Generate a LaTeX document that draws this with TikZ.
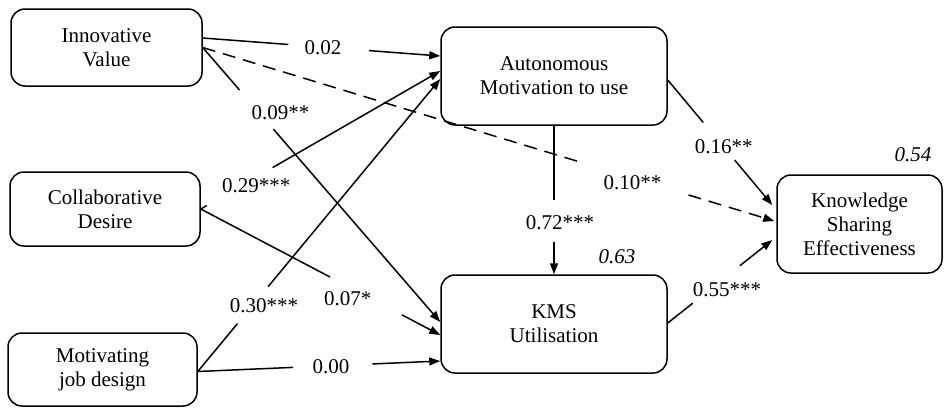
\documentclass[tikz,border=0pt]{standalone}
\usepackage{fontspec}
\setmainfont{Liberation Serif}
\usetikzlibrary{arrows.meta,calc}
\begin{document}
\begin{tikzpicture}[x=1pt,y=-1pt,
  every node/.style={font=\fontsize{21}{24}\selectfont},
  box/.style={draw,line width=1.5pt,rounded corners=14pt,align=center,inner sep=0pt},
  conn/.style={line width=1.5pt},
  arr/.style={line width=1.5pt,-{Triangle[length=11pt,width=8pt]}},
  dashline/.style={dash pattern=on 13pt off 8pt},
  coef/.style={inner sep=1pt},
  rsq/.style={font=\fontsize{21}{24}\selectfont\itshape}
]
\useasboundingbox (0,0) rectangle (944,408);

% boxes
\node[box,minimum width=191pt,minimum height=77pt] (IV) at (106.5,47.5) {Innovative\\Value};
\node[box,minimum width=190pt,minimum height=74pt] (CD) at (105,209) {Collaborative\\Desire};
\node[box,minimum width=189pt,minimum height=73pt] (MJ) at (102.5,369.5) {Motivating\\job design};
\node[box,minimum width=226pt,minimum height=98pt] (AM) at (554,76) {Autonomous\\Motivation to use};
\node[box,minimum width=226pt,minimum height=98pt] (KU) at (554,324) {KMS\\Utilisation};
\node[box,minimum width=165pt,minimum height=98pt] (KSE) at (859.5,224) {Knowledge\\Sharing\\Effectiveness};

% connector end points on the box borders
\coordinate (ivA) at ($(IV.east)+(0,-9.5)$);
\coordinate (ivB) at (IV.east);
\coordinate (cdA) at (CD.east);
\coordinate (mjA) at ($(MJ.east)+(0,2)$);
\coordinate (amL1) at ($(AM.west)+(0,-20)$);
\coordinate (amL2) at ($(AM.west)+(0,-5)$);
\coordinate (amL3) at ($(AM.west)+(0,3)$);
\coordinate (amR) at ($(AM.east)+(0,4)$);
\coordinate (kuL1) at ($(KU.west)+(0,-2)$);
\coordinate (kuL2) at ($(KU.west)+(0,11)$);
\coordinate (kuL3) at ($(KU.west)+(0,37)$);
\coordinate (kuR) at ($(KU.east)+(0,-1)$);
\coordinate (kseL1) at ($(KSE.west)+(-4,-19)$);
\coordinate (kseL2) at ($(KSE.west)+(-2,-3)$);
\coordinate (kseL3) at ($(KSE.west)+(-4,16)$);

% Innovative Value -> Autonomous (0.02)
\draw[conn] (ivA) -- ($(ivA)!0.36!(amL1)$);
\draw[arr] ($(ivA)!0.70!(amL1)$) -- (amL1);
\node[coef] (l02) at ($(ivA)!0.506!(amL1)+(0,1)$) {0.02};

% Innovative Value -> Knowledge Sharing (0.10**, dashed)
\draw[conn,dashline] (ivB) -- ($(ivB)!0.665!(kseL2)$);
\draw[arr,dashline] ($(ivB)!0.85!(kseL2)$) -- (kseL2);
\node[coef] (l10) at ($(ivB)!0.752!(kseL2)+(0,5)$) {0.10**};

% Innovative Value -> KMS (0.09**)
\draw[conn] (ivB) -- ($(ivB)!0.155!(kuL1)$);
\draw[arr] ($(ivB)!0.297!(kuL1)$) -- (kuL1);
\node[coef] (l09) at ($(ivB)!0.239!(kuL1)+(21,0)$) {0.09**};

% Collaborative Desire -> Autonomous (0.29***)
\draw[conn] (cdA) -- ($(cdA)!0.025!(amL2)$);
\draw[arr] ($(cdA)!0.30!(amL2)$) -- (amL2);
\node[coef] (l29) at ($(cdA)!0.232!(amL2)+(0,9)$) {0.29***};

% Collaborative Desire -> KMS (0.07*)
\draw[conn] (cdA) -- ($(cdA)!0.54!(kuL2)$);
\draw[arr] ($(cdA)!0.84!(kuL2)$) -- (kuL2);
\node[coef] (l07) at ($(cdA)!0.614!(kuL2)+(0,12.5)$) {0.07*};

% Motivating job design -> Autonomous (0.30***)
\draw[conn] (mjA) -- ($(mjA)!0.164!(amL3)$);
\draw[arr] ($(mjA)!0.29!(amL3)$) -- (amL3);
\node[coef] (l30) at ($(mjA)!0.224!(amL3)+(12,0)$) {0.30***};

% Motivating job design -> KMS (0.00)
\draw[conn] (mjA) -- ($(mjA)!0.393!(kuL3)$);
\draw[arr] ($(mjA)!0.72!(kuL3)$) -- (kuL3);
\node[coef] (l00) at ($(mjA)!0.549!(kuL3)+(0,1)$) {0.00};

% Autonomous -> KMS (0.72***)
\draw[conn] (AM.south) -- ($(AM.south)!0.5!(KU.north)$);
\draw[arr] ($(AM.south)!0.78!(KU.north)$) -- (KU.north);
\node[coef] (l72) at ($(AM.south)!0.653!(KU.north)+(6,0)$) {0.72***};

% Autonomous -> Knowledge Sharing (0.16**)
\draw[conn] (amR) -- ($(amR)!0.34!(kseL1)$);
\draw[arr] ($(amR)!0.64!(kseL1)$) -- (kseL1);
\node[coef] (l16) at ($(amR)!0.536!(kseL1)$) {0.16**};

% KMS -> Knowledge Sharing (0.55***)
\draw[conn] (kuR) -- ($(kuR)!0.24!(kseL3)$);
\draw[arr] ($(kuR)!0.69!(kseL3)$) -- (kseL3);
\node[coef] (l55) at ($(kuR)!0.566!(kseL3)+(0,14)$) {0.55***};

% R squared values
\node[rsq] (r54) at (913,155) {0.54};
\node[rsq] (r63) at (617,257) {0.63};
\end{tikzpicture}
\end{document}
